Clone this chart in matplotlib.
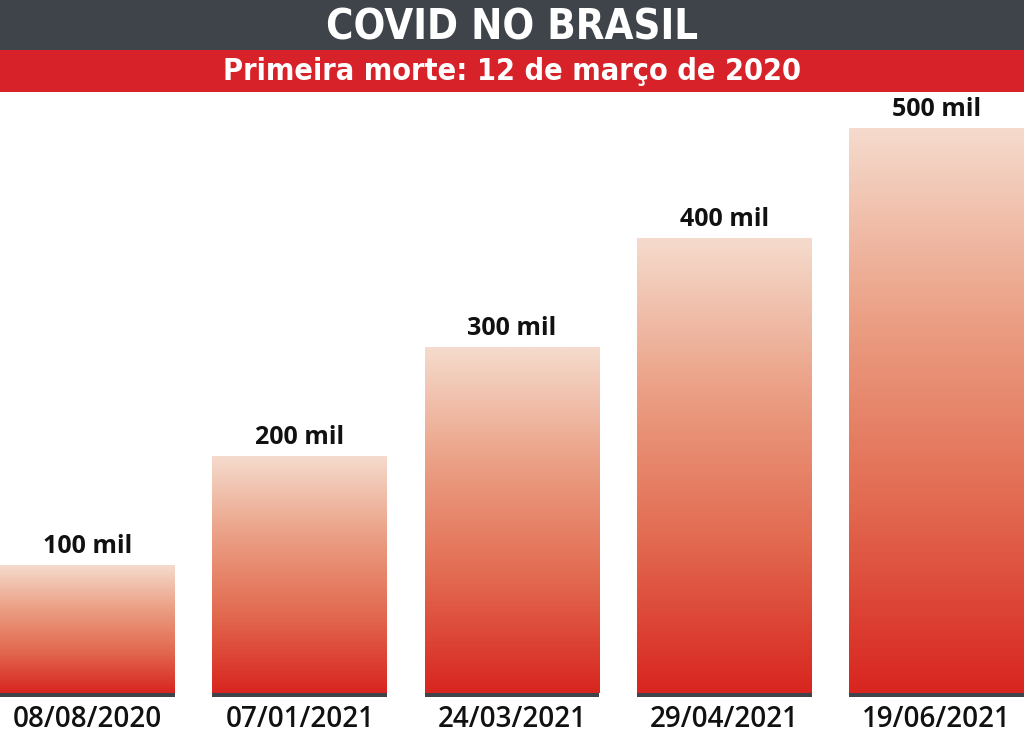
import numpy as np
import matplotlib
matplotlib.use("Agg")
import matplotlib.pyplot as plt
from matplotlib.colors import LinearSegmentedColormap
from matplotlib.patches import Rectangle

# dados
datas = ["08/08/2020", "07/01/2021", "24/03/2021", "29/04/2021", "19/06/2021"]
mortes = [100, 200, 300, 400, 500]  # mil
rotulos = ["100 mil", "200 mil", "300 mil", "400 mil", "500 mil"]

titulo = "COVID NO BRASIL"
subtitulo = "Primeira morte: 12 de março de 2020"

cinza = "#3e444a"
vermelho = "#d8222a"
grad = LinearSegmentedColormap.from_list("grad", ["#f5dbcd", "#eba085", "#e26a50", "#d8251f"])

fig = plt.figure(figsize=(10.24, 7.35), dpi=100)
fig.patch.set_facecolor("white")

H = 735.0
# faixas do titulo
fig.patches.append(Rectangle((0, 1 - 50 / H), 1, 50 / H, transform=fig.transFigure,
                             facecolor=cinza, edgecolor="none", zorder=0))
fig.patches.append(Rectangle((0, 1 - 92 / H), 1, 42 / H, transform=fig.transFigure,
                             facecolor=vermelho, edgecolor="none", zorder=0))
fig.text(0.5, 1 - 27 / H, titulo, color="white", fontsize=30, fontweight="bold",
         fontstretch="condensed", family=["DejaVu Sans"], ha="center", va="center")
fig.text(0.5, 1 - 71 / H, subtitulo, color="white", fontsize=22, fontweight="bold",
         fontstretch="condensed", family=["DejaVu Sans"], ha="center", va="center")

ax = fig.add_axes([0, 0, 1, 1 - 92 / H])
ax.set_axis_off()

base = -16.5
largura = 0.824
x = np.arange(len(mortes))

grad_img = np.linspace(0, 1, 256).reshape(-1, 1)
for xi, v, rot, d in zip(x, mortes, rotulos, datas):
    ax.imshow(grad_img, cmap=grad, aspect="auto", interpolation="bilinear",
              extent=(xi - largura / 2, xi + largura / 2, base, v), zorder=2)
    ax.bar(xi, 3.5, bottom=base - 3.5, width=largura, color=cinza, zorder=3)
    ax.text(xi, v + 6, rot, ha="center", va="bottom", fontsize=18, fontweight="bold",
            family=["Open Sans", "DejaVu Sans"], color="#111111")
    ax.text(xi, base - 24, d, ha="center", va="center", fontsize=20,
            family=["Open Sans", "DejaVu Sans"], fontweight="semibold", color="#111111")

ax.set_xlim(-largura / 2, len(mortes) - 1 + largura / 2)
ax.set_ylim(-54.9, 533.9)

fig.savefig("out.png", dpi=100)
